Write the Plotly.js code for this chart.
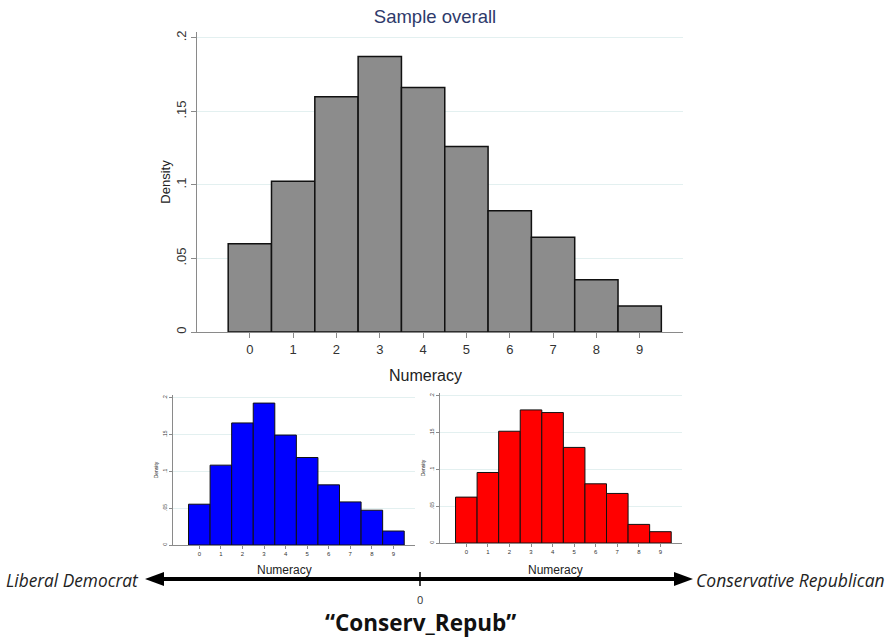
<!DOCTYPE html>
<html>
<head>
<meta charset="utf-8">
<script src="https://cdn.plot.ly/plotly-3.0.1.min.js"></script>
<style>html,body{margin:0;padding:0;background:#fff;}#chart{width:891px;height:639px;}</style>
</head>
<body>
<div id="chart"></div>
<script>
const numeracy = [0, 1, 2, 3, 4, 5, 6, 7, 8, 9];
const overallDensity = [0.060, 0.1025, 0.160, 0.1873, 0.1662, 0.1261, 0.0825, 0.0644, 0.0356, 0.0177];
const liberalDensity = [0.0555, 0.1086, 0.166, 0.193, 0.1495, 0.119, 0.0818, 0.0586, 0.0473, 0.019];
const conservDensity = [0.0624, 0.0959, 0.152, 0.181, 0.1774, 0.130, 0.0805, 0.0674, 0.0253, 0.0154];
const yTickVals = [0, 0.05, 0.1, 0.15, 0.2];
const yTickText = ['0', '.05', '.1', '.15', '.2'];

const W = 891, H = 639;
const px = x => x / W;
const py = y => 1 - y / H;
const FONT = 'Liberation Sans, Arial, sans-serif';
const GRID = '#e3f0f0';
const AX = '#8a8a8a';

function bar(y, color, xa, ya, lw) {
  return {type: 'bar', x: numeracy, y: y, xaxis: xa, yaxis: ya, width: 1,
    marker: {color: color, line: {color: '#111', width: lw}}, hoverinfo: 'skip', showlegend: false};
}

function xax(domain, fs, ticklen) {
  return {domain: domain, range: [-1.22, 10.0], tickvals: numeracy, ticks: 'outside', ticklen: ticklen,
    tickcolor: AX, showline: true, linecolor: AX, linewidth: 1, showgrid: false, zeroline: false,
    tickfont: {family: FONT, size: fs, color: '#333'}, fixedrange: true};
}
function yax(domain, fs, tfs, standoff, ticklen, anchor) {
  return {domain: domain, range: [0, 0.204], tickvals: yTickVals, ticktext: yTickText, tickangle: -90,
    ticks: 'outside', ticklen: ticklen, tickcolor: AX, showline: true, linecolor: AX, linewidth: 1,
    showgrid: true, gridcolor: GRID, gridwidth: 1, zeroline: false, anchor: anchor,
    tickfont: {family: FONT, size: fs, color: '#333'},
    title: {text: 'Density', font: {family: FONT, size: tfs, color: '#222'}, standoff: standoff}, fixedrange: true};
}
function note(text, x, y, size, family, color, xanchor) {
  return {xref: 'paper', yref: 'paper', x: px(x), y: py(y), xanchor: xanchor || 'center', yanchor: 'middle',
    showarrow: false, text: text, font: {family: family, size: size, color: color}};
}

const data = [
  bar(overallDensity, '#8c8c8c', 'x', 'y', 1.5),
  bar(liberalDensity, '#0000ff', 'x2', 'y2', 1),
  bar(conservDensity, '#ff0000', 'x3', 'y3', 1)
];

const layout = {
  width: W, height: H, margin: {l: 0, r: 0, t: 0, b: 0},
  paper_bgcolor: '#fff', plot_bgcolor: '#fff', bargap: 0, showlegend: false,
  font: {family: FONT},
  title: {text: 'Sample overall', font: {family: FONT, size: 18.5, color: '#2e3a6b'}, x: px(435), xanchor: 'center', y: py(17), yanchor: 'middle'},
  xaxis: Object.assign(xax([px(197), px(683)], 13, 5), {anchor: 'y'}),
  yaxis: yax([py(332), py(32)], 13, 13, 0, 5, 'x'),
  xaxis2: Object.assign(xax([px(173), px(415)], 6, 3), {anchor: 'y2'}),
  yaxis2: yax([py(545), py(395)], 5, 5, 3, 3, 'x2'),
  xaxis3: Object.assign(xax([px(440), px(682)], 6, 3), {anchor: 'y3'}),
  yaxis3: yax([py(543), py(393)], 5, 5, 3, 3, 'x3'),
  shapes: [
    {type: 'line', xref: 'paper', yref: 'paper', x0: px(158), x1: px(680), y0: py(579), y1: py(579), line: {color: '#000', width: 4}},
    {type: 'path', xref: 'paper', yref: 'paper', path: `M ${px(145)} ${py(579)} L ${px(164)} ${py(572)} L ${px(164)} ${py(586)} Z`, fillcolor: '#000', line: {color: '#000', width: 0}},
    {type: 'path', xref: 'paper', yref: 'paper', path: `M ${px(693)} ${py(579)} L ${px(674)} ${py(572)} L ${px(674)} ${py(586)} Z`, fillcolor: '#000', line: {color: '#000', width: 0}},
    {type: 'line', xref: 'paper', yref: 'paper', x0: px(420), x1: px(420), y0: py(572), y1: py(586), line: {color: '#000', width: 1.5}}
  ],
  annotations: [
    note('Numeracy', 425, 375, 16, FONT, '#222'),
    note('Numeracy', 284, 570, 12, FONT, '#222'),
    note('Numeracy', 555, 570, 12, FONT, '#222'),
    note('<i>Liberal Democrat</i>', 4, 580, 17.3, 'Open Sans, sans-serif', '#222', 'left'),
    note('<i>Conservative Republican</i>', 887, 580, 17.5, 'Open Sans, sans-serif', '#222', 'right'),
    note('0', 420, 599, 11, 'Open Sans, sans-serif', '#333'),
    note('<b>“Conserv_Repub”</b>', 420, 622, 22.5, 'Open Sans, sans-serif', '#111')
  ]
};

Plotly.newPlot('chart', data, layout, {staticPlot: true, displayModeBar: false});
</script>
</body>
</html>
